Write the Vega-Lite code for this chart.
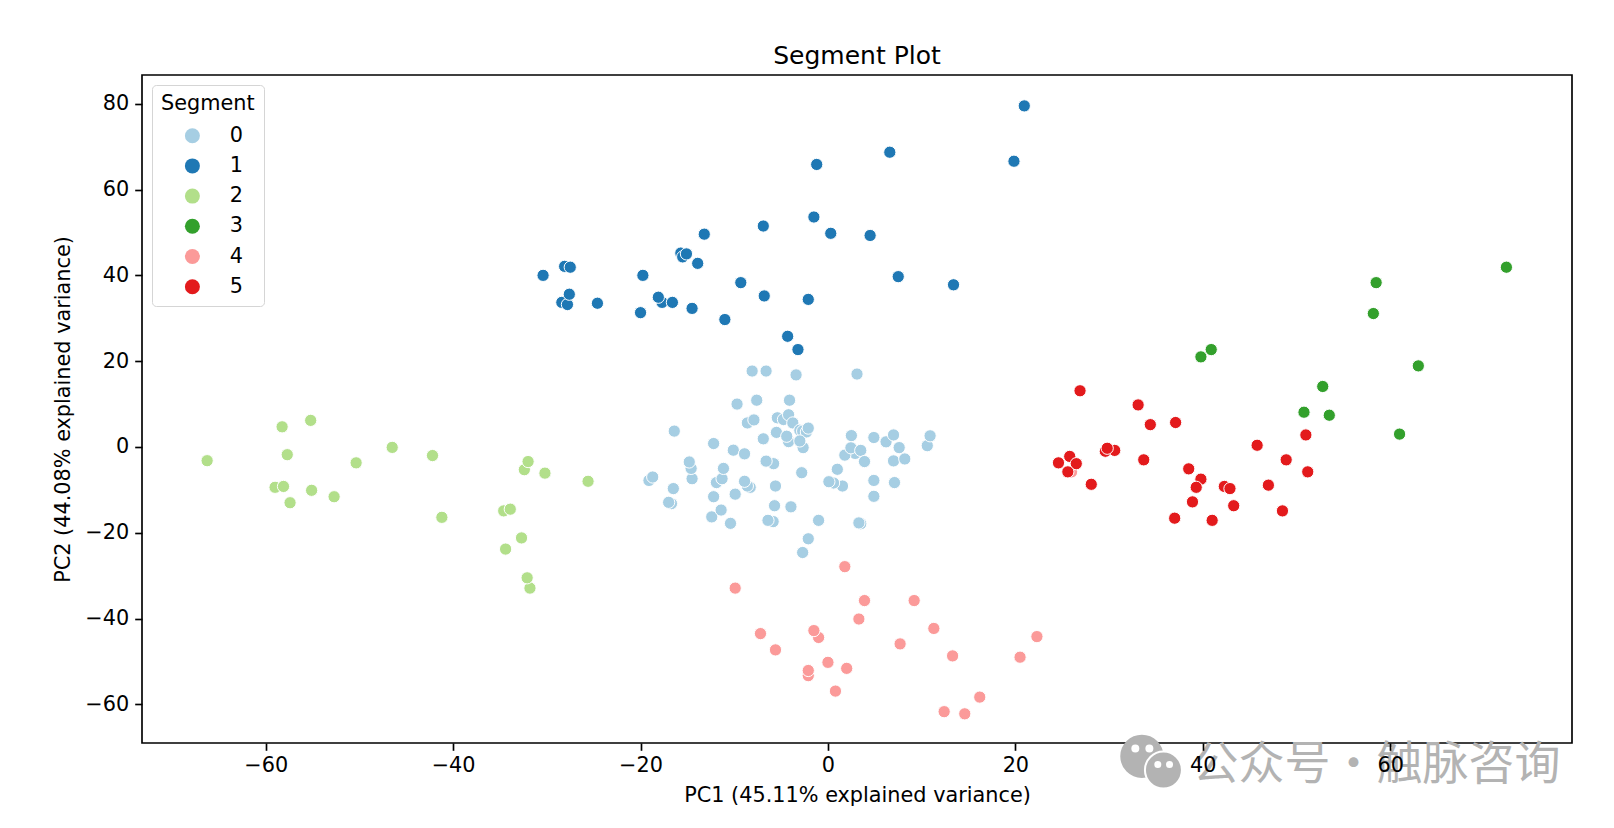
{"$schema":"https://vega.github.io/schema/vega-lite/v6.json","width":1430,"height":668,"autosize":"none","padding":{"left":142,"top":75,"right":42,"bottom":85},"background":"white",
"title":{"text":"Segment Plot","font":"DejaVu Sans","fontSize":25,"fontWeight":"normal","color":"black","offset":6,"anchor":"middle"},
"config":{"view":{"stroke":"black","strokeWidth":1.67},"font":"DejaVu Sans"},
"datasets":{"pts":[
{"pc1":-8.09,"pc2":17.7,"segment":0},{"pc1":-6.6,"pc2":17.7,"segment":0},{"pc1":-3.4,"pc2":16.8,"segment":0},{"pc1":3.1,"pc2":17,"segment":0},{"pc1":-9.7,"pc2":10,"segment":0},{"pc1":-7.6,"pc2":10.9,"segment":0},{"pc1":-4.1,"pc2":10.9,"segment":0},{"pc1":-8.6,"pc2":5.6,"segment":0},{"pc1":-7.9,"pc2":6.3,"segment":0},{"pc1":-5.4,"pc2":6.8,"segment":0},{"pc1":-4.75,"pc2":6.4,"segment":0},{"pc1":-4.2,"pc2":7.5,"segment":0},{"pc1":-3.75,"pc2":5.6,"segment":0},{"pc1":-16.4,"pc2":3.7,"segment":0},{"pc1":-5.5,"pc2":3.4,"segment":0},{"pc1":-6.9,"pc2":1.9,"segment":0},{"pc1":-4.2,"pc2":1.25,"segment":0},{"pc1":-4.4,"pc2":2.5,"segment":0},{"pc1":-3,"pc2":3.9,"segment":0},{"pc1":-2.7,"pc2":3.7,"segment":0},{"pc1":-2.3,"pc2":3.5,"segment":0},{"pc1":-2.1,"pc2":4.4,"segment":0},{"pc1":-2.65,"pc2":-0.15,"segment":0},{"pc1":-3,"pc2":1.4,"segment":0},{"pc1":-12.2,"pc2":0.8,"segment":0},{"pc1":-10.1,"pc2":-0.75,"segment":0},{"pc1":-8.9,"pc2":-1.6,"segment":0},{"pc1":-5.8,"pc2":-3.9,"segment":0},{"pc1":-6.6,"pc2":-3.3,"segment":0},{"pc1":-14.5,"pc2":-7.4,"segment":0},{"pc1":-14.6,"pc2":-5,"segment":0},{"pc1":-14.8,"pc2":-3.5,"segment":0},{"pc1":-11.9,"pc2":-8.3,"segment":0},{"pc1":-11.3,"pc2":-7.4,"segment":0},{"pc1":-11.15,"pc2":-5,"segment":0},{"pc1":-8.3,"pc2":-9.4,"segment":0},{"pc1":-8.6,"pc2":-9.1,"segment":0},{"pc1":-8.9,"pc2":-8,"segment":0},{"pc1":-5.6,"pc2":-9.1,"segment":0},{"pc1":-2.8,"pc2":-6,"segment":0},{"pc1":-19.1,"pc2":-7.8,"segment":0},{"pc1":-18.7,"pc2":-7,"segment":0},{"pc1":-16.5,"pc2":-9.7,"segment":0},{"pc1":-16.7,"pc2":-13.2,"segment":0},{"pc1":-17,"pc2":-12.9,"segment":0},{"pc1":-12.2,"pc2":-11.6,"segment":0},{"pc1":-9.9,"pc2":-11,"segment":0},{"pc1":-12.4,"pc2":-16.3,"segment":0},{"pc1":-11.4,"pc2":-14.7,"segment":0},{"pc1":-10.4,"pc2":-17.8,"segment":0},{"pc1":-5.7,"pc2":-13.7,"segment":0},{"pc1":-3.95,"pc2":-13.95,"segment":0},{"pc1":-5.85,"pc2":-17.4,"segment":0},{"pc1":-6.4,"pc2":-17.1,"segment":0},{"pc1":-1,"pc2":-17.1,"segment":0},{"pc1":-2.1,"pc2":-21.4,"segment":0},{"pc1":-2.7,"pc2":-24.6,"segment":0},{"pc1":1,"pc2":-5.2,"segment":0},{"pc1":1.55,"pc2":-9.1,"segment":0},{"pc1":0.6,"pc2":-8.4,"segment":0},{"pc1":0.1,"pc2":-8.1,"segment":0},{"pc1":4.9,"pc2":-7.8,"segment":0},{"pc1":7.1,"pc2":-8.3,"segment":0},{"pc1":4.9,"pc2":-11.5,"segment":0},{"pc1":3.5,"pc2":-17.9,"segment":0},{"pc1":3.3,"pc2":-17.7,"segment":0},{"pc1":2.5,"pc2":2.65,"segment":0},{"pc1":4.9,"pc2":2.2,"segment":0},{"pc1":6.2,"pc2":1.2,"segment":0},{"pc1":7,"pc2":2.8,"segment":0},{"pc1":7.6,"pc2":-0.15,"segment":0},{"pc1":10.6,"pc2":0.3,"segment":0},{"pc1":10.9,"pc2":2.6,"segment":0},{"pc1":2.9,"pc2":-1.5,"segment":0},{"pc1":1.8,"pc2":-1.9,"segment":0},{"pc1":2.45,"pc2":-0.2,"segment":0},{"pc1":3.5,"pc2":-0.8,"segment":0},{"pc1":3.9,"pc2":-3.4,"segment":0},{"pc1":7,"pc2":-3.25,"segment":0},{"pc1":8.2,"pc2":-2.8,"segment":0},
{"pc1":20.95,"pc2":79.5,"segment":1},{"pc1":-1.2,"pc2":65.85,"segment":1},{"pc1":6.6,"pc2":68.7,"segment":1},{"pc1":19.85,"pc2":66.6,"segment":1},{"pc1":-1.5,"pc2":53.6,"segment":1},{"pc1":-6.9,"pc2":51.5,"segment":1},{"pc1":-13.2,"pc2":49.6,"segment":1},{"pc1":0.3,"pc2":49.8,"segment":1},{"pc1":4.5,"pc2":49.3,"segment":1},{"pc1":-15.7,"pc2":45.2,"segment":1},{"pc1":-15.5,"pc2":44.3,"segment":1},{"pc1":-15.1,"pc2":45,"segment":1},{"pc1":-13.9,"pc2":42.8,"segment":1},{"pc1":-9.3,"pc2":38.3,"segment":1},{"pc1":-6.8,"pc2":35.2,"segment":1},{"pc1":-30.4,"pc2":40,"segment":1},{"pc1":-28.1,"pc2":42.1,"segment":1},{"pc1":-27.5,"pc2":41.9,"segment":1},{"pc1":-19.75,"pc2":40,"segment":1},{"pc1":-28.4,"pc2":33.7,"segment":1},{"pc1":-27.8,"pc2":33.2,"segment":1},{"pc1":-27.6,"pc2":35.6,"segment":1},{"pc1":-24.6,"pc2":33.5,"segment":1},{"pc1":-17.7,"pc2":33.7,"segment":1},{"pc1":-18.1,"pc2":34.9,"segment":1},{"pc1":-16.6,"pc2":33.7,"segment":1},{"pc1":-20,"pc2":31.3,"segment":1},{"pc1":-14.5,"pc2":32.3,"segment":1},{"pc1":-11,"pc2":29.7,"segment":1},{"pc1":-2.1,"pc2":34.4,"segment":1},{"pc1":7.5,"pc2":39.7,"segment":1},{"pc1":13.4,"pc2":37.8,"segment":1},{"pc1":-4.3,"pc2":25.8,"segment":1},{"pc1":-3.2,"pc2":22.7,"segment":1},
{"pc1":-66.25,"pc2":-3.2,"segment":2},{"pc1":-58.25,"pc2":4.7,"segment":2},{"pc1":-55.2,"pc2":6.2,"segment":2},{"pc1":-57.7,"pc2":-1.8,"segment":2},{"pc1":-59,"pc2":-9.4,"segment":2},{"pc1":-58.1,"pc2":-9.2,"segment":2},{"pc1":-55.1,"pc2":-10.1,"segment":2},{"pc1":-57.4,"pc2":-13,"segment":2},{"pc1":-52.7,"pc2":-11.6,"segment":2},{"pc1":-50.35,"pc2":-3.7,"segment":2},{"pc1":-46.5,"pc2":-0.1,"segment":2},{"pc1":-42.2,"pc2":-2,"segment":2},{"pc1":-41.2,"pc2":-16.4,"segment":2},{"pc1":-32.4,"pc2":-5.3,"segment":2},{"pc1":-32,"pc2":-3.4,"segment":2},{"pc1":-30.2,"pc2":-6.1,"segment":2},{"pc1":-25.6,"pc2":-8,"segment":2},{"pc1":-34.6,"pc2":-14.9,"segment":2},{"pc1":-33.9,"pc2":-14.5,"segment":2},{"pc1":-32.7,"pc2":-21.2,"segment":2},{"pc1":-34.4,"pc2":-23.8,"segment":2},{"pc1":-31.8,"pc2":-32.9,"segment":2},{"pc1":-32.1,"pc2":-30.5,"segment":2},
{"pc1":72.4,"pc2":41.9,"segment":3},{"pc1":58.5,"pc2":38.3,"segment":3},{"pc1":58.2,"pc2":31.1,"segment":3},{"pc1":63,"pc2":18.9,"segment":3},{"pc1":40.9,"pc2":22.7,"segment":3},{"pc1":39.8,"pc2":21,"segment":3},{"pc1":52.8,"pc2":14.1,"segment":3},{"pc1":50.8,"pc2":8.1,"segment":3},{"pc1":53.5,"pc2":7.4,"segment":3},{"pc1":61,"pc2":3,"segment":3},
{"pc1":1.8,"pc2":-27.9,"segment":4},{"pc1":-9.9,"pc2":-32.9,"segment":4},{"pc1":3.9,"pc2":-35.8,"segment":4},{"pc1":9.2,"pc2":-35.8,"segment":4},{"pc1":3.3,"pc2":-40.1,"segment":4},{"pc1":11.3,"pc2":-42.3,"segment":4},{"pc1":-7.2,"pc2":-43.5,"segment":4},{"pc1":-1,"pc2":-44.4,"segment":4},{"pc1":-1.5,"pc2":-42.8,"segment":4},{"pc1":22.3,"pc2":-44.2,"segment":4},{"pc1":7.7,"pc2":-45.9,"segment":4},{"pc1":-5.6,"pc2":-47.3,"segment":4},{"pc1":13.3,"pc2":-48.7,"segment":4},{"pc1":20.5,"pc2":-49,"segment":4},{"pc1":0,"pc2":-50.2,"segment":4},{"pc1":2,"pc2":-51.6,"segment":4},{"pc1":-2.1,"pc2":-53.3,"segment":4},{"pc1":-2.1,"pc2":-52.1,"segment":4},{"pc1":0.8,"pc2":-56.9,"segment":4},{"pc1":16.2,"pc2":-58.3,"segment":4},{"pc1":12.4,"pc2":-61.7,"segment":4},{"pc1":14.6,"pc2":-62.2,"segment":4},{"pc1":26,"pc2":-5.8,"segment":4},
{"pc1":26.9,"pc2":13.1,"segment":5},{"pc1":33.1,"pc2":9.8,"segment":5},{"pc1":34.4,"pc2":5.2,"segment":5},{"pc1":37.1,"pc2":5.7,"segment":5},{"pc1":45.8,"pc2":0.4,"segment":5},{"pc1":51,"pc2":2.8,"segment":5},{"pc1":24.6,"pc2":-3.7,"segment":5},{"pc1":25.8,"pc2":-2.2,"segment":5},{"pc1":26.5,"pc2":-3.9,"segment":5},{"pc1":25.6,"pc2":-5.8,"segment":5},{"pc1":28.1,"pc2":-8.7,"segment":5},{"pc1":29.6,"pc2":-1,"segment":5},{"pc1":30.6,"pc2":-0.8,"segment":5},{"pc1":29.8,"pc2":-0.3,"segment":5},{"pc1":33.7,"pc2":-3,"segment":5},{"pc1":38.5,"pc2":-5.1,"segment":5},{"pc1":39.8,"pc2":-7.5,"segment":5},{"pc1":39.3,"pc2":-9.4,"segment":5},{"pc1":48.9,"pc2":-3,"segment":5},{"pc1":51.2,"pc2":-5.8,"segment":5},{"pc1":47,"pc2":-8.9,"segment":5},{"pc1":42.3,"pc2":-9.2,"segment":5},{"pc1":42.9,"pc2":-9.7,"segment":5},{"pc1":38.9,"pc2":-12.8,"segment":5},{"pc1":37,"pc2":-16.6,"segment":5},{"pc1":41,"pc2":-17.1,"segment":5},{"pc1":43.3,"pc2":-13.7,"segment":5},{"pc1":48.5,"pc2":-14.9,"segment":5}
],
"bubbles":[{"pc1":33.5,"pc2":-72.1,"d":1700,"c":"#b3b3b3","s":"#b3b3b3"},{"pc1":35.8,"pc2":-75.3,"d":1369,"c":"#b3b3b3","s":"white"},{"pc1":32.8,"pc2":-70.3,"d":36,"c":"white","s":"white"},{"pc1":34.3,"pc2":-70.3,"d":36,"c":"white","s":"white"},{"pc1":35.2,"pc2":-74,"d":25,"c":"white","s":"white"},{"pc1":36.45,"pc2":-74,"d":25,"c":"white","s":"white"}],
"wm":[{"pc1":38.9,"pc2":-74.2,"t":"公众号·触脉咨询"}]},
"encoding":{
"x":{"field":"pc1","type":"quantitative","scale":{"domain":[-73.2,79.4],"nice":false,"zero":false},"axis":{"title":"PC1 (45.11% explained variance)","values":[-60,-40,-20,0,20,40,60],"grid":false,"domain":false,"tickColor":"black","tickWidth":1.67,"tickSize":7.3,"labelColor":"black","labelFont":"DejaVu Sans","labelFontSize":20.8,"labelPadding":5.5,"titleFont":"DejaVu Sans","titleFontSize":20.8,"titleFontWeight":"normal","titleColor":"black","titlePadding":10,"zindex":1}},
"y":{"field":"pc2","type":"quantitative","scale":{"domain":[-69,86.7],"nice":false,"zero":false},"axis":{"title":"PC2 (44.08% explained variance)","values":[-60,-40,-20,0,20,40,60,80],"grid":false,"domain":false,"tickColor":"black","tickWidth":1.67,"tickSize":7.3,"labelColor":"black","labelFont":"DejaVu Sans","labelFontSize":20.8,"labelPadding":6,"titleFont":"DejaVu Sans","titleFontSize":20.8,"titleFontWeight":"normal","titleColor":"black","titlePadding":11,"zindex":1}}
},
"layer":[
{"data":{"name":"bubbles"},"mark":{"type":"point","filled":true,"opacity":1,"strokeWidth":2},"encoding":{"size":{"field":"d","type":"quantitative","scale":null},"fill":{"field":"c","type":"nominal","scale":null},"stroke":{"field":"s","type":"nominal","scale":null}}},
{"data":{"name":"wm"},"mark":{"type":"text","font":"Noto Sans CJK SC","fontSize":46,"align":"left","baseline":"middle","color":"#b3b3b3"},"encoding":{"text":{"field":"t","type":"nominal"}}},
{"data":{"name":"pts"},"mark":{"type":"point","filled":true,"opacity":1,"size":150,"stroke":"white","strokeWidth":1},"encoding":{"color":{"field":"segment","type":"nominal","scale":{"domain":[0,1,2,3,4,5],"range":["#a6cee3","#1f78b4","#b2df8a","#33a02c","#fb9a99","#e31a1c"]},"legend":{"title":"Segment","orient":"top-left","offset":10,"fillColor":"white","strokeColor":"#d5d5d5","cornerRadius":4,"padding":9,"symbolType":"circle","symbolSize":225,"symbolOffset":21,"symbolStrokeWidth":0,"labelOffset":27,"labelFont":"DejaVu Sans","labelFontSize":20.8,"labelColor":"black","titleFont":"DejaVu Sans","titleFontSize":20.8,"titleFontWeight":"normal","titleColor":"black","titlePadding":10.5,"rowPadding":8.2}}}}
]}
